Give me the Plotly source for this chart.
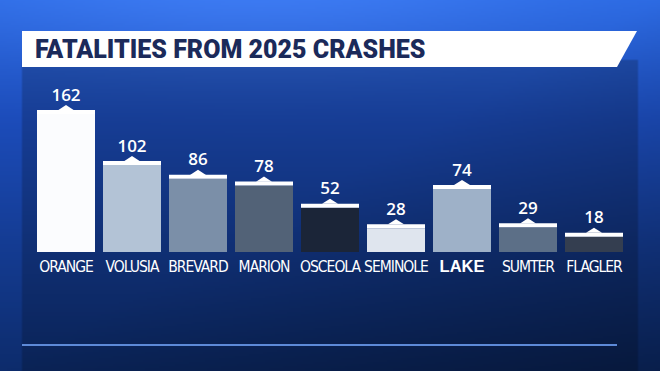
import base64
import struct
import zlib

import numpy as np
import plotly.graph_objects as go

# ---------------- data ----------------
counties = ["ORANGE", "VOLUSIA", "BREVARD", "MARION", "OSCEOLA",
            "SEMINOLE", "LAKE", "SUMTER", "FLAGLER"]
fatalities = [162, 102, 86, 78, 52, 28, 74, 29, 18]
title_text = "FATALITIES FROM 2025 CRASHES"

# ---------------- styles ----------------
bar_colors = ["#fbfcfe", "#b3c3d6", "#7b8fa8", "#526277", "#1b2538",
              "#dfe5ee", "#9eb1c8", "#5c6f87", "#343e50"]

W, H = 660, 371
ML, MR, MT, MB = 33, 33, 60, 119
PW, PH = W - ML - MR, H - MT - MB
PX_PER_UNIT = 0.852
YMAX = PH / PX_PER_UNIT
BAR_W = 58 / 66
CAP = 4 / PX_PER_UNIT
TRI_H = 5 / PX_PER_UNIT
TRI_HW = 8 / 66


def px_x(px):
    return (px - ML) / PW


def px_y(py):
    return (H - MB - py) / PH


# ---------------- background gradient image ----------------
def make_png(arr):
    h, w, _ = arr.shape
    raw = b"".join(b"\x00" + arr[r].tobytes() for r in range(h))

    def chunk(tag, data):
        c = struct.pack(">I", len(data)) + tag + data
        return c + struct.pack(">I", zlib.crc32(tag + data) & 0xFFFFFFFF)

    return (b"\x89PNG\r\n\x1a\n"
            + chunk(b"IHDR", struct.pack(">IIBBBBB", w, h, 8, 2, 0, 0, 0))
            + chunk(b"IDAT", zlib.compress(raw, 9))
            + chunk(b"IEND", b""))


gw, gh = 330, 186
xs = (np.arange(gw) + 0.5) * W / gw
ys = (np.arange(gh) + 0.5) * H / gh
X, Y = np.meshgrid(xs, ys)
c0 = np.array([42, 104, 224.0])
c1 = np.array([28, 76, 186.0])
c2 = np.array([13, 44, 108.0])
t1 = np.clip(Y / 120, 0, 1)[..., None]
t2 = np.clip((Y - 120) / 251, 0, 1)[..., None]
col = c0 + (c1 - c0) * t1 + (c2 - c1) * t2
fac = 1 - 0.3 * np.clip(X / W + Y / H - 1.0, 0, 1)
inside = (X >= 22) & (X <= 637) & (Y >= 60)
fac = np.where(inside, fac * 0.8, fac)
col = col * fac[..., None]
col += 18 * np.exp(-(((X - 260) / 300) ** 2 + (Y / 70) ** 2))[..., None]
img = np.clip(col, 0, 255).astype(np.uint8)
bg_src = "data:image/png;base64," + base64.b64encode(make_png(img)).decode()

# ---------------- figure ----------------
idx = list(range(len(counties)))
tops = [v + CAP for v in fatalities]

fig = go.Figure()
fig.add_trace(go.Bar(x=idx, y=fatalities, width=BAR_W,
                     marker=dict(color=bar_colors, line=dict(width=0)),
                     hoverinfo="skip"))
fig.add_trace(go.Bar(x=idx, y=[CAP] * len(idx), base=fatalities, width=BAR_W,
                     marker=dict(color="#ffffff", line=dict(width=0)),
                     hoverinfo="skip"))

tx, ty = [], []
for i, t in zip(idx, tops):
    tx += [i - TRI_HW, i, i + TRI_HW, i - TRI_HW, None]
    ty += [t - 0.2, t + TRI_H, t - 0.2, t - 0.2, None]
fig.add_trace(go.Scatter(x=tx, y=ty, mode="lines", fill="toself",
                         fillcolor="#ffffff", line=dict(width=0, color="#ffffff"),
                         hoverinfo="skip"))

fig.add_trace(go.Scatter(x=idx, y=[t + TRI_H for t in tops], mode="text",
                         text=[str(v) for v in fatalities],
                         textposition="top center",
                         textfont=dict(family="Open Sans", size=17,
                                       color="#ffffff", weight=600),
                         hoverinfo="skip"))

ticktext = [
    ('<span style="font-family:\'Liberation Sans\';font-weight:bold;'
     'font-size:16.5px;letter-spacing:0px">%s</span>' % c) if c == "LAKE" else
    ('<span style="letter-spacing:-1px">%s</span>' % c)
    for c in counties
]

fig.update_layout(
    width=W, height=H,
    margin=dict(l=ML, r=MR, t=MT, b=MB, pad=0),
    paper_bgcolor="#12357f",
    plot_bgcolor="rgba(0,0,0,0)",
    showlegend=False,
    barmode="overlay",
    xaxis=dict(range=[-0.5, len(idx) - 0.5], tickvals=idx, ticktext=ticktext,
               showgrid=False, zeroline=False, showline=False, ticks="",
               tickangle=0, ticklabelstandoff=3,
               tickfont=dict(family="DejaVu Sans Condensed, DejaVu Sans",
                             size=15.5, color="#ffffff"),
               fixedrange=True),
    yaxis=dict(range=[0, YMAX], visible=False, fixedrange=True),
    images=[dict(source=bg_src, xref="paper", yref="paper",
                 x=px_x(0), y=px_y(0), sizex=W / PW, sizey=H / PH,
                 xanchor="left", yanchor="top", sizing="stretch",
                 layer="below")],
    shapes=[
        dict(type="path", xref="paper", yref="paper",
             path="M %f %f L %f %f L %f %f L %f %f Z" % (
                 px_x(22), px_y(31), px_x(637), px_y(31),
                 px_x(617), px_y(67), px_x(22), px_y(67)),
             fillcolor="#ffffff", line=dict(width=0), layer="above"),
        dict(type="line", xref="paper", yref="paper",
             x0=px_x(22), x1=px_x(617), y0=px_y(345), y1=px_y(345),
             line=dict(color="#5d8ad8", width=2), layer="above"),
    ],
    annotations=[
        dict(text=title_text, xref="paper", yref="paper",
             x=px_x(33), y=px_y(49.5), xanchor="left", yanchor="middle",
             showarrow=False,
             font=dict(family="Roboto", size=25, color="#1b2a5a", weight=900)),
    ],
)

fig.write_html("out.html", config=dict(displayModeBar=False),
               post_script="document.body.style.margin='0';"
                           "document.body.style.overflow='hidden';")
